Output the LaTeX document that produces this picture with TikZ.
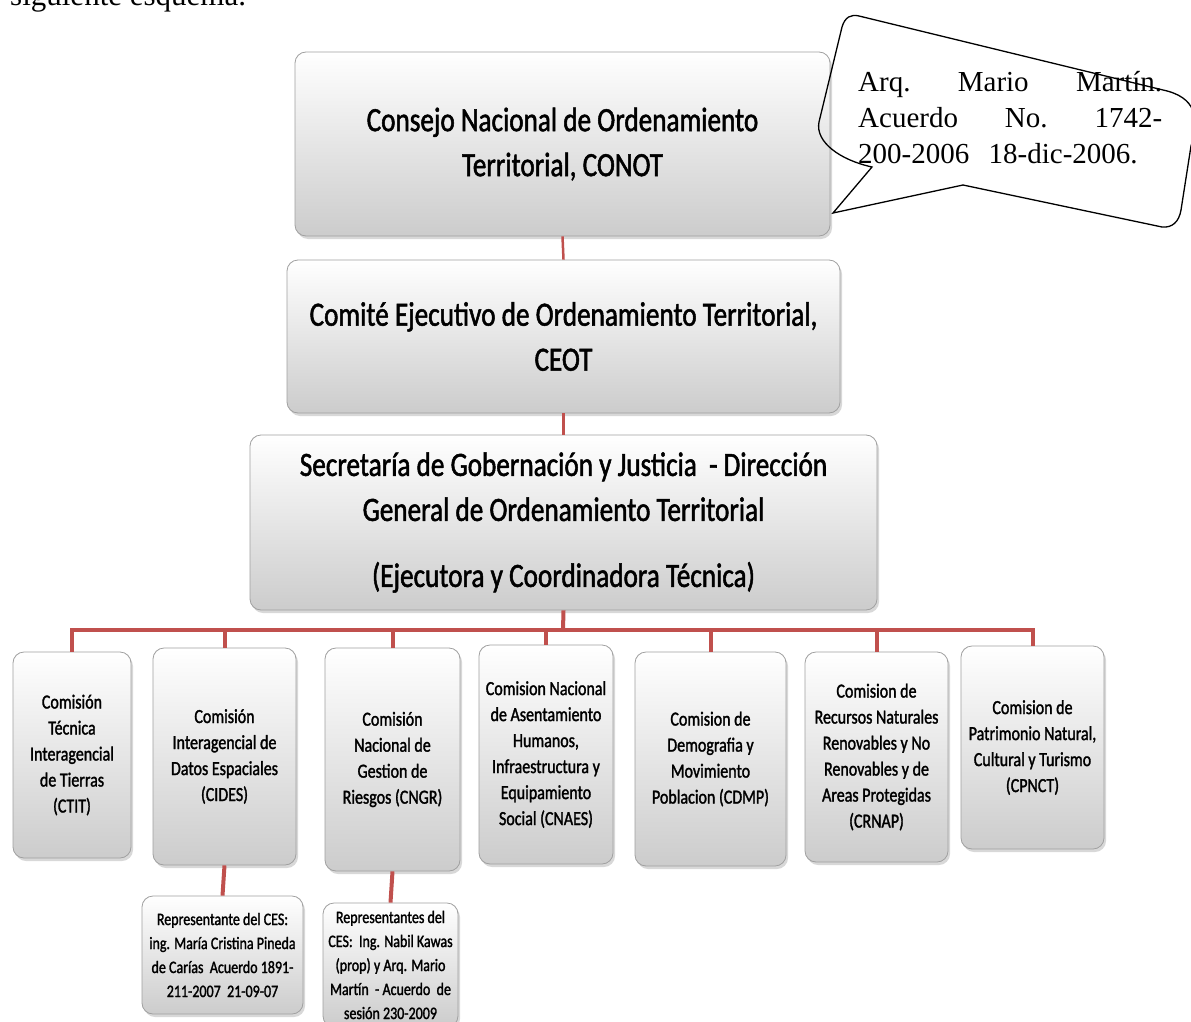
\documentclass[tikz,border=0pt]{standalone}
\usepackage{fontspec}
\setmainfont{Carlito}[FakeStretch=0.8, RawFeature={embolden=1.5}]
\newfontfamily\timesfont{Liberation Serif}
\usetikzlibrary{shadows}

\definecolor{linkred}{RGB}{192,80,77}
\definecolor{boxedge}{RGB}{160,160,160}

\tikzset{
  orgbox/.style={rounded corners=11pt, draw=boxedge, line width=0.8pt,
    top color=white, bottom color=black!20, align=center, inner sep=2pt,
    drop shadow={shadow xshift=2pt, shadow yshift=-3pt, opacity=0.3}},
  bigtext/.style={font=\fontsize{34}{45}\selectfont},
  smalltext/.style={font=\fontsize{20}{26}\selectfont},
  cestext/.style={font=\fontsize{17.5}{24}\selectfont},
  link/.style={draw=linkred, line width=2.5pt},
  branch/.style={draw=linkred, line width=4pt},
}

\begin{document}
\begin{tikzpicture}[x=1pt,y=-1pt]
\useasboundingbox (0,0) rectangle (1191,1022);
\fill[white] (0,0) rectangle (1191,1022);
\clip (0,0) rectangle (1191,1022);

% Text Node
\node[anchor=base west, inner sep=0pt, font=\timesfont\fontsize{31}{36}\selectfont] (intro) at (10,6) {siguiente esquema.};

%Top boxes
\node[orgbox, bigtext, minimum width=535pt, minimum height=184pt] (conot) at (562.5,144)
  {Consejo Nacional de Ordenamiento\\Territorial, CONOT};
\node[orgbox, bigtext, minimum width=553pt, minimum height=153pt] (ceot) at (563.5,336.5)
  {Comité Ejecutivo de Ordenamiento Territorial,\\CEOT};
\node[orgbox, bigtext, minimum width=627pt, minimum height=175pt] (dgot) at (563.5,522.5)
  {Secretaría de Gobernación y Justicia~~- Dirección\\General de Ordenamiento Territorial\\[21pt](Ejecutora y Coordinadora Técnica)};

%Comisiones
\node[orgbox, smalltext, minimum width=118pt, minimum height=206pt] (ctit) at (72,755)
  {Comisión\\Técnica\\Interagencial\\de Tierras\\(CTIT)};
\node[orgbox, smalltext, minimum width=143pt, minimum height=217pt] (cides) at (224.5,756.5)
  {Comisión\\Interagencial de\\Datos Espaciales\\(CIDES)};
\node[orgbox, smalltext, minimum width=135pt, minimum height=223pt] (cngr) at (392.5,759.5)
  {Comisión\\Nacional de\\Gestion de\\Riesgos (CNGR)};
\node[orgbox, smalltext, minimum width=134pt, minimum height=219pt] (cnaes) at (546,754.5)
  {Comision Nacional\\de Asentamiento\\Humanos,\\Infraestructura y\\Equipamiento\\Social (CNAES)};
\node[orgbox, smalltext, minimum width=151pt, minimum height=214pt] (cdmp) at (710.5,759)
  {Comision de\\Demografia y\\Movimiento\\Poblacion (CDMP)};
\node[orgbox, smalltext, minimum width=143pt, minimum height=210pt] (crnap) at (876.5,757)
  {Comision de\\Recursos Naturales\\Renovables y No\\Renovables y de\\Areas Protegidas\\(CRNAP)};
\node[orgbox, smalltext, minimum width=143pt, minimum height=203pt] (cpnct) at (1032.5,747.5)
  {Comision de\\Patrimonio Natural,\\Cultural y Turismo\\(CPNCT)};

%Representantes del CES
\node[orgbox, cestext, minimum width=161pt, minimum height=118pt] (ces1) at (222.5,955)
  {Representante del CES:\\ing. María Cristina Pineda\\de Carías~~Acuerdo 1891-\\211-2007~~21-09-07};
\node[orgbox, cestext, minimum width=135pt, minimum height=124pt] (ces2) at (390.5,965)
  {Representantes del\\CES:~~Ing. Nabil Kawas\\(prop) y Arq. Mario\\Martín~~- Acuerdo~~de\\sesión 230-2009};

%Lines
\draw[link] (conot.south) -- (ceot.north);
\draw[link] (ceot.south) -- (dgot.north);
\coordinate (bus) at (563,630);
\draw[branch] (dgot.south) -- (bus);
\draw[branch] (ctit.north) |- (bus) -| (cpnct.north);
\foreach \n in {cides,cngr,cnaes,cdmp,crnap}
  \draw[branch] (\n.north |- bus) -- (\n.north);
\draw[branch] (cides.south) -- (ces1.north);
\draw[branch] (cngr.south) -- (ces2.north);

%Shape: callout
\draw[line width=1.3pt] (833,213) -- (872,167) .. controls (840,160) and (815,142) .. (819,122)
  -- (842,27) .. controls (845,17) and (851,14) .. (859,16) -- (1163,90)
  .. controls (1196,97) and (1200,118) .. (1191,146) -- (1181,210)
  .. controls (1179,222) and (1172,228) .. (1162,227) -- (963,185) -- cycle;
% Text Node
\node[anchor=north west, inner sep=0pt, text width=304pt, align=left, font=\timesfont\fontsize{29}{36}\selectfont] (note) at (858,71)
  {\makebox[304pt][l]{Arq.\hfill Mario\hfill Martín.}\\\makebox[304pt][l]{Acuerdo\hfill No.\hfill 1742-}\\200-2006~~18-dic-2006.};
\end{tikzpicture}
\end{document}
